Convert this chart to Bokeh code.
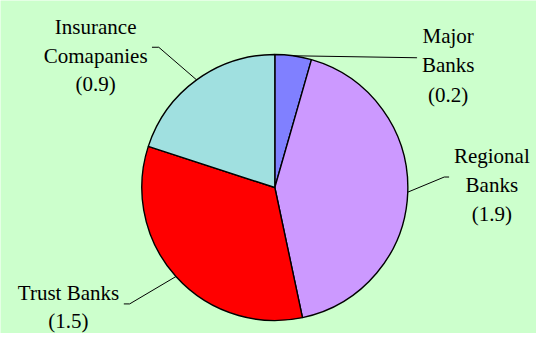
import math
from bokeh.plotting import figure
from bokeh.models import Range1d, ColumnDataSource
from bokeh.core.properties import value
from bokeh.embed import file_html
from bokeh.resources import INLINE

# ---- data ----
label_lines = [["Major", "Banks"], ["Regional", "Banks"], ["Trust Banks"], ["Insurance", "Comapanies"]]
values = [0.2, 1.9, 1.5, 0.9]
colors = ["#8080FF", "#CC99FF", "#FF0000", "#A0E0E0"]

# ---- layout (reference pixel coordinates, y downward) ----
W, H = 552, 349
PW, PH = 536, 333
def Y(y):
    return H - y

# ratio of x screen scale to y screen scale (to keep the pie round)
ratio = (PW / W) / (PH / H)

cx, cy, r = 282.5, 196.0, 137.0
# text centre x, first baseline y, line spacing
label_pos = [(461, 37, 30.8), (506, 163, 30.3), (70, 307, 28.5), (98, 27.5, 30.2)]
# leader line: elbow and end points
leader = [((428, 60), (429, 60)), ((457, 185), (462, 185)),
          ((133, 318), (127, 318)), ((163, 49), (156, 49))]

total = sum(values)
starts, ends, mids = [], [], []
acc = 0.0
for v in values:
    a, b = acc / total, (acc + v) / total
    starts.append(math.pi / 2 - 2 * math.pi * b)
    ends.append(math.pi / 2 - 2 * math.pi * a)
    mids.append((a + b) / 2)
    acc += v

p = figure(width=PW, height=PH, output_backend="svg", toolbar_location=None,
           x_range=Range1d(0, W), y_range=Range1d(0, H),
           min_border=0, outline_line_color=None,
           background_fill_color="#CCFFCC", border_fill_color="#CCFFCC")
p.axis.visible = False
p.grid.visible = False

src = ColumnDataSource(dict(start=starts, end=ends, color=colors))
p.wedge(x=cx, y=Y(cy), radius=r, start_angle="start", end_angle="end",
        fill_color="color", line_color="black", line_width=1.4, source=src)

for i, v in enumerate(values):
    m = mids[i] * 2 * math.pi
    px, py = cx + r * math.sin(m), cy - r * ratio * math.cos(m)
    (ex, ey), (fx, fy) = leader[i]
    p.line([px, ex, fx], [Y(py), Y(ey), Y(fy)], line_color="black", line_width=1)
    tx, ty, dy = label_pos[i]
    lines = label_lines[i] + [f"({v})"]
    xs = [tx] * len(lines)
    ys = [Y(ty + k * dy) for k in range(len(lines))]
    p.text(x=xs, y=ys, text=lines, text_font=value("Liberation Serif"),
           text_font_size="21px", text_align="center", text_baseline="alphabetic",
           text_color="black")

open("out.html", "w").write(file_html(p, INLINE))
